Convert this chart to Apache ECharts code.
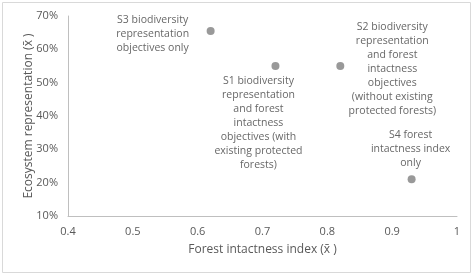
<!DOCTYPE html>
<html><head><meta charset="utf-8">
<script src="https://cdn.jsdelivr.net/npm/echarts@6/dist/echarts.min.js"></script>
<style>html,body{margin:0;padding:0;background:#fff}#c{width:475px;height:275px}</style>
</head><body><div id="c"></div>
<script>
const scenarioNames = [
  "S3 biodiversity\nrepresentation\nobjectives only",
  "S1 biodiversity\nrepresentation\nand forest\nintactness\nobjectives (with\nexisting protected\nforests)",
  "S2 biodiversity\nrepresentation\nand forest\nintactness\nobjectives\n(without existing\nprotected forests)",
  "S4 forest\nintactness index\nonly"
];
const forestIntactness = [0.62, 0.72, 0.82, 0.93];
const ecosystemRepresentation = [65.5, 55, 55, 21];
const xTicks = [0.4, 0.5, 0.6, 0.7, 0.8, 0.9, 1];
const yTicks = [10, 20, 30, 40, 50, 60, 70];
const labelOffsets = [[-58, 3], [-17, 57], [52, 3], [-1, -30]];

const FONT = "Open Sans";
const chart = echarts.init(document.getElementById('c'));
chart.setOption({
  animation: false,
  grid: {left: 68, right: 18, top: 16, bottom: 59},
  graphic: [{type: 'rect', shape: {x: 2.5, y: 2.5, width: 468, height: 270}, style: {fill: 'none', stroke: '#d9d9d9', lineWidth: 1}}],
  xAxis: {
    type: 'value', min: xTicks[0], max: xTicks[xTicks.length - 1], interval: 0.1,
    name: "Forest intactness index (x\u0304 )", nameLocation: 'middle', nameGap: 28, nameMoveOverlap: false,
    nameTextStyle: {color: '#595959', fontFamily: FONT, fontSize: 12},
    axisLine: {lineStyle: {color: '#bfbfbf'}}, axisTick: {show: false}, splitLine: {show: false},
    axisLabel: {color: '#595959', fontFamily: FONT, fontSize: 11, margin: 10,
      formatter: v => String(Math.round(v * 10) / 10)}
  },
  yAxis: {
    type: 'value', min: yTicks[0], max: yTicks[yTicks.length - 1], interval: 10,
    name: "Ecosystem representation (x\u0304 )", nameLocation: 'middle', nameGap: 33, nameMoveOverlap: false,
    nameTextStyle: {color: '#595959', fontFamily: FONT, fontSize: 12},
    axisLine: {show: true, lineStyle: {color: '#bfbfbf'}}, axisTick: {show: false}, splitLine: {show: false},
    axisLabel: {color: '#595959', fontFamily: FONT, fontSize: 11, margin: 10, formatter: '{value}%'}
  },
  series: [{
    type: 'scatter', symbol: 'circle', symbolSize: 8,
    itemStyle: {color: '#7f7f7f'},
    data: forestIntactness.map((x, i) => ({
      value: [x, ecosystemRepresentation[i]],
      label: {show: true, formatter: scenarioNames[i], position: 'inside', align: 'center', verticalAlign: 'middle',
        offset: labelOffsets[i], color: '#404040', fontFamily: FONT, fontSize: 10.5, lineHeight: 14}
    }))
  }]
});
</script></body></html>
